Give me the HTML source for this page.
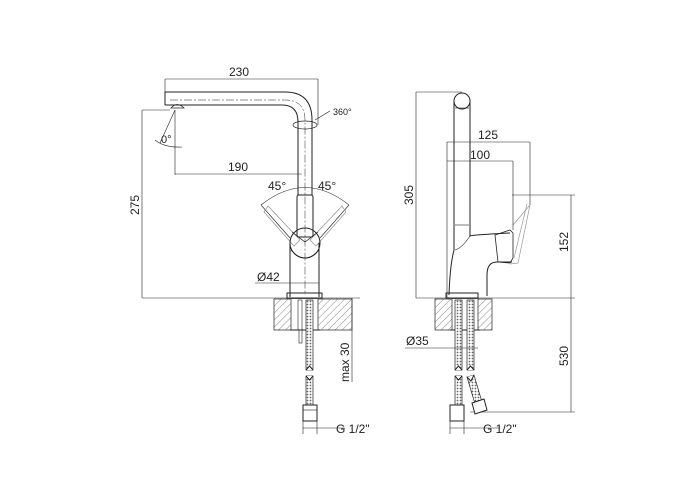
<!DOCTYPE html>
<html><head><style>
html,body{margin:0;padding:0;background:#fff}
svg{display:block}
text{font-family:"Liberation Sans",sans-serif;font-size:12px;fill:#222}
</style></head><body>
<svg width="700" height="500" viewBox="0 0 700 500" xmlns="http://www.w3.org/2000/svg">
<defs>
<pattern id="h" width="5" height="5" patternUnits="userSpaceOnUse" patternTransform="rotate(45)">
<line x1="0" y1="0" x2="0" y2="5" stroke="#555" stroke-width="0.7"/>
</pattern>
<pattern id="hs" width="3" height="3" patternUnits="userSpaceOnUse">
<rect width="3" height="3" fill="#fff"/><circle cx="1.5" cy="1.5" r="0.9" fill="#666"/>
</pattern>
</defs>
<g fill="none" stroke="#222" stroke-width="1">
<line x1="165" y1="79" x2="318" y2="79" stroke-width="0.6"/>
<line x1="165" y1="79" x2="165" y2="92" stroke-width="0.6"/>
<line x1="318" y1="79" x2="318" y2="125" stroke-width="0.6"/>
<path d="M165 92 H285 Q312 92 312 120 V195"/>
<path d="M165 105 H282 Q298 105 298 122 V195"/>
<line x1="165" y1="92" x2="165" y2="105"/>
<path d="M170 100 H285 Q305 100 305 120 V295" stroke-width="0.5" stroke-dasharray="8 2 2 2"/>
<path d="M171 108 Q177 101 184 108 Z" stroke-width="0.8"/>
<ellipse cx="305" cy="125" rx="12" ry="4" stroke-width="0.7"/>
<line x1="315" y1="120" x2="330" y2="111" stroke-width="0.6"/>
<line x1="175" y1="110" x2="160" y2="143" stroke-width="0.6"/>
<path d="M155 140 Q165 148 182 147" stroke-width="0.6"/>
<line x1="175" y1="110" x2="175" y2="175" stroke-width="0.6"/>
<line x1="142" y1="110" x2="142" y2="298" stroke-width="0.6"/>
<line x1="142" y1="110" x2="170" y2="110" stroke-width="0.6"/>
<line x1="175" y1="174" x2="302" y2="174" stroke-width="0.6"/>
<path d="M261 205 Q305 170 349 205" stroke-width="0.6"/>
<line x1="261" y1="205" x2="290" y2="238" stroke-width="0.6"/>
<line x1="349" y1="205" x2="320" y2="238" stroke-width="0.6"/>
<g stroke="#999" stroke-width="0.8">
<path d="M264 212 L268 206 L300 240 L294 246 Z"/>
<path d="M346 212 L342 206 L310 240 L316 246 Z"/>
</g>
<rect x="297" y="195" width="16" height="42" rx="2"/>
<path d="M290 243 V297 M319 243 V297"/>
<circle cx="305" cy="243" r="15"/>
<path d="M291 250 Q305 266 319 250" stroke-width="0.7"/>
<path d="M292 232 L305 242 L318 232" stroke-width="0.7"/>
<line x1="255" y1="283" x2="319" y2="283" stroke-width="0.6"/>
<rect x="287" y="293" width="35" height="5"/>
<line x1="142" y1="298" x2="360" y2="298" stroke-width="0.6"/>
<rect x="274" y="299" width="78" height="31" fill="url(#h)" stroke-width="0.7"/>
<rect x="291" y="299" width="27" height="31" fill="#fff" stroke="none"/>
<line x1="291" y1="299" x2="291" y2="330" stroke-width="0.7"/>
<line x1="318" y1="299" x2="318" y2="330" stroke-width="0.7"/>
<line x1="290" y1="330" x2="320" y2="330"/>
<rect x="298" y="300" width="4" height="30" stroke-width="0.6"/>
<rect x="299" y="330" width="3" height="13" stroke-width="0.6"/>
<rect x="306" y="300" width="7" height="70" fill="url(#hs)" stroke-width="0.7"/>
<path d="M306 370 L309.5 366 L313 370" fill="#fff"/>
<rect x="306" y="376" width="7" height="30" fill="url(#hs)" stroke-width="0.7"/>
<path d="M306 376 L309.5 380 L313 376" fill="#fff"/>
<rect x="303" y="405" width="14" height="16" fill="#fff"/>
<line x1="303" y1="410" x2="317" y2="410" stroke-width="0.6"/>
<line x1="352" y1="298" x2="352" y2="382" stroke-width="0.6"/>
<line x1="303" y1="421" x2="303" y2="434" stroke-width="0.6"/>
<line x1="317" y1="421" x2="317" y2="434" stroke-width="0.6"/>
<line x1="303" y1="428" x2="345" y2="428" stroke-width="0.6"/>

<line x1="416" y1="92" x2="416" y2="298" stroke-width="0.6"/>
<line x1="416" y1="92" x2="462" y2="92" stroke-width="0.6"/>
<circle cx="462" cy="101" r="8"/>
<path d="M454 101 V250 Q450 265 449 295 M470 101 V236 Q472 235 510 233"/>
<line x1="455" y1="108" x2="469" y2="108" stroke-width="0.6"/>
<line x1="455" y1="225" x2="469" y2="225" stroke-width="0.6"/>
<path d="M455 250 Q462 248 470 236" stroke-width="0.6"/>
<path d="M487 296 V275 Q487 262 497 262 H512" />
<path d="M495 235 L510 230 L513 233 V258 L510 263 L498 262 Z" stroke-width="0.8"/>
<g stroke="#999" stroke-width="0.7"><path d="M513 225 L530 205 L518 263 L510 264"/><path d="M527 204 L514 258"/></g>
<line x1="447" y1="142" x2="530" y2="142" stroke-width="0.6"/>
<line x1="530" y1="142" x2="530" y2="205" stroke-width="0.6"/>
<line x1="447" y1="142" x2="447" y2="298" stroke-width="0.6"/>
<line x1="447" y1="161" x2="513" y2="161" stroke-width="0.6"/>
<line x1="513" y1="161" x2="513" y2="230" stroke-width="0.6"/>
<line x1="512" y1="195" x2="575" y2="195" stroke-width="0.6"/>
<line x1="571" y1="195" x2="571" y2="412" stroke-width="0.6"/>
<line x1="416" y1="298" x2="575" y2="298" stroke-width="0.6"/>
<line x1="470" y1="412" x2="575" y2="412" stroke-width="0.6"/>
<rect x="446" y="293" width="32" height="5"/>
<rect x="435" y="299" width="57" height="31" fill="url(#h)" stroke-width="0.7"/>
<rect x="452" y="299" width="26" height="31" fill="#fff" stroke="none"/>
<line x1="452" y1="299" x2="452" y2="330" stroke-width="0.7"/>
<line x1="478" y1="299" x2="478" y2="330" stroke-width="0.7"/>
<line x1="450" y1="330" x2="480" y2="330"/>
<rect x="455" y="300" width="7" height="70" fill="url(#hs)" stroke-width="0.7"/>
<rect x="467" y="300" width="7" height="70" fill="url(#hs)" stroke-width="0.7"/>
<path d="M455 370 L458.5 366 L462 370 M467 370 L470.5 366 L474 370" fill="#fff"/>
<rect x="455" y="376" width="7" height="30" fill="url(#hs)" stroke-width="0.7"/>
<path d="M455 376 L458.5 380 L462 376" fill="#fff"/>
<path d="M467 377 L474 375 L482 402 L475 404 Z" fill="url(#hs)" stroke-width="0.7"/>
<path d="M467 377 L471 381 L474 375" fill="#fff"/>
<rect x="450" y="405" width="14" height="16" fill="#fff"/>
<path d="M472 403 L484 399 L487 410 L475 414 Z" fill="#fff"/>
<line x1="405" y1="348" x2="478" y2="348" stroke-width="0.6"/>
<line x1="450" y1="421" x2="450" y2="434" stroke-width="0.6"/>
<line x1="464" y1="421" x2="464" y2="434" stroke-width="0.6"/>
<line x1="450" y1="428" x2="500" y2="428" stroke-width="0.6"/>
</g>
<text x="229" y="76">230</text>
<text x="333" y="115" style="font-size:9px">360°</text>
<text x="161" y="143" style="font-size:11px">0°</text>
<text x="228" y="171">190</text>
<text x="268" y="190">45°</text>
<text x="318" y="190">45°</text>
<text x="257" y="281">Ø42</text>
<text transform="translate(139,215) rotate(-90)">275</text>
<text transform="translate(349,382) rotate(-90)">max 30</text>
<text x="336" y="433">G 1/2"</text>
<text transform="translate(413,205) rotate(-90)">305</text>
<text x="478" y="139">125</text>
<text x="470" y="159">100</text>
<text transform="translate(568,252) rotate(-90)">152</text>
<text transform="translate(568,366) rotate(-90)">530</text>
<text x="406" y="345">Ø35</text>
<text x="483" y="433">G 1/2"</text>
</svg>
</body></html>
